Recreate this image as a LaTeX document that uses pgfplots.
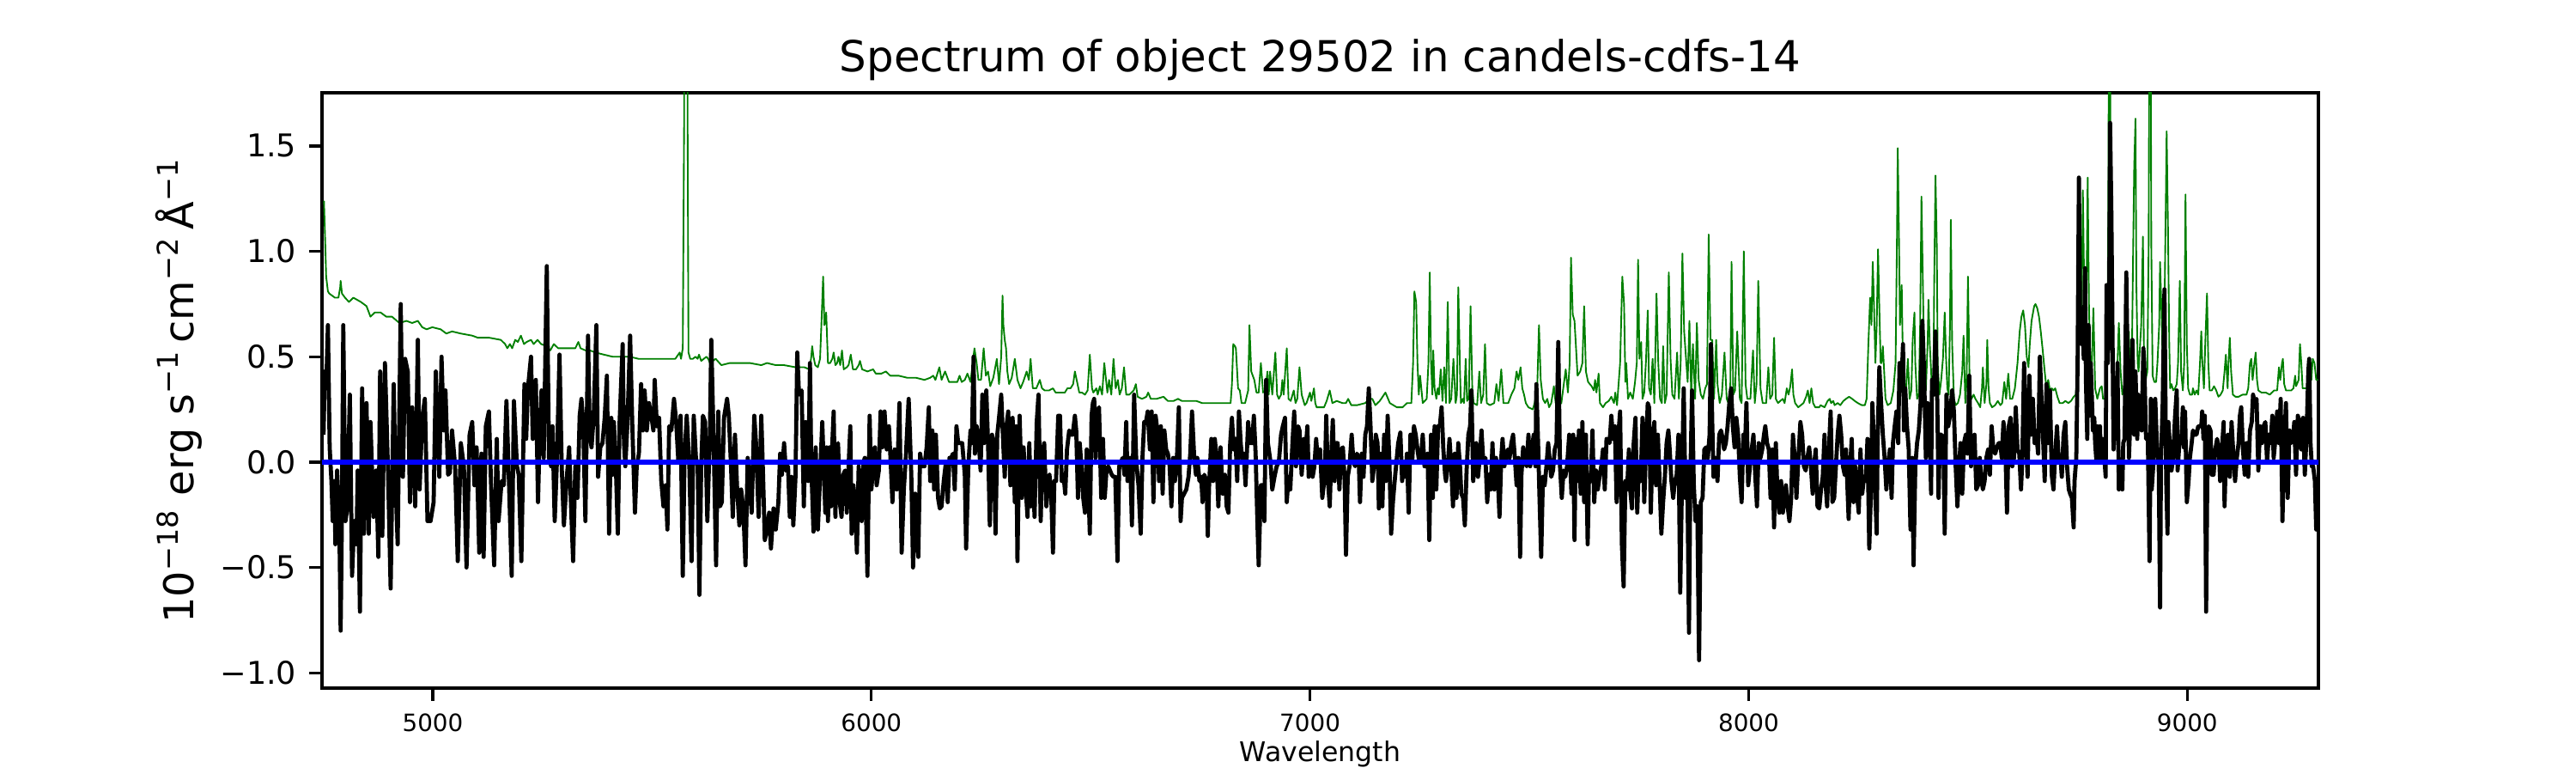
\documentclass[border=0pt]{standalone}
\usepackage{fontspec}
\setmainfont{DejaVu Sans}
\usepackage{pgfplots}
\pgfplotsset{compat=1.18}
\definecolor{mplgreen}{RGB}{0,128,0}
\begin{document}
\begin{tikzpicture}
\path[use as bounding box] (0,0) rectangle (10in,3in);
\begin{axis}[
  at={(1.25in,0.33in)}, anchor=south west,
  scale only axis, width=7.75in, height=2.31in,
  xmin=4747.5, xmax=9299, ymin=-1.0725, ymax=1.7525,
  axis line style={line width=0.8pt},
  tick align=outside, xtick pos=bottom, ytick pos=left,
  major tick length=3.5pt,
  every tick/.style={black, line width=0.8pt},
  xtick={5000,6000,7000,8000,9000},
  xticklabels={5000,6000,7000,8000,9000},
  ytick={-1,-0.5,0,0.5,1,1.5},
  yticklabels={−1.0,−0.5,0.0,0.5,1.0,1.5},
  xticklabel style={font=\fontsize{6.7}{8}\selectfont, inner xsep=0pt, inner ysep=3.5pt},
  yticklabel style={font=\fontsize{8.8}{10}\selectfont, inner xsep=3.5pt, inner ysep=0pt},
  xlabel={Wavelength},
  xlabel style={font=\fontsize{7.6}{9}\selectfont, at={(axis description cs:0.5,-0.124)}, anchor=base, inner sep=0pt},
  ylabel={10\textsuperscript{−18} erg s\textsuperscript{−1}\,cm\textsuperscript{−2}\,Å\textsuperscript{−1}},
  ylabel style={font=\fontsize{11.5}{13}\selectfont, at={(axis description cs:-0.0715,0.5)}, anchor=center, inner sep=0pt},
  title={Spectrum of object 29502 in candels-cdfs-14},
  title style={font=\fontsize{12}{14}\selectfont, at={(axis description cs:0.5,1.036)}, anchor=base, inner sep=0pt, yshift=-6pt},
  clip=true,
]
% model / sky (green)
\addplot[mplgreen, line width=0.45pt, line join=round] table {
x y
4752 1.24
4755 1.03
4757 0.88
4761 0.81
4764 0.80
4777 0.78
4785 0.78
4789 0.83
4790 0.86
4793 0.80
4800 0.78
4809 0.76
4819 0.78
4836 0.76
4849 0.74
4858 0.69
4868 0.71
4881 0.71
4894 0.69
4907 0.69
4924 0.66
4940 0.67
4953 0.66
4966 0.67
4976 0.64
4986 0.63
4999 0.64
5018 0.63
5031 0.61
5044 0.62
5064 0.61
5090 0.60
5103 0.59
5116 0.59
5129 0.59
5155 0.58
5165 0.56
5170 0.54
5176 0.56
5181 0.54
5188 0.58
5194 0.57
5201 0.60
5208 0.56
5214 0.57
5224 0.58
5230 0.56
5239 0.58
5247 0.56
5260 0.55
5268 0.53
5276 0.56
5286 0.54
5299 0.54
5319 0.54
5325 0.54
5332 0.57
5337 0.54
5348 0.53
5358 0.53
5371 0.52
5390 0.51
5410 0.50
5429 0.50
5449 0.50
5469 0.49
5501 0.49
5527 0.49
5553 0.49
5563 0.52
5566 0.49
5570 0.54
5573 1.59
5574 2.5
5580 2.5
5581 1.6
5583 0.52
5587 0.49
5593 0.49
5599 0.50
5604 0.49
5607 0.51
5612 0.48
5624 0.50
5628 0.49
5632 0.47
5645 0.49
5658 0.46
5677 0.47
5697 0.47
5723 0.47
5749 0.46
5762 0.47
5782 0.46
5801 0.46
5827 0.45
5847 0.45
5859 0.44
5863 0.50
5865 0.55
5868 0.50
5872 0.46
5878 0.45
5883 0.49
5886 0.65
5890 0.88
5893 0.65
5897 0.71
5901 0.47
5906 0.47
5911 0.49
5914 0.52
5918 0.46
5922 0.47
5925 0.50
5929 0.46
5933 0.53
5937 0.44
5944 0.45
5948 0.46
5953 0.51
5958 0.44
5965 0.44
5971 0.46
5974 0.48
5979 0.44
5991 0.43
6004 0.44
6010 0.42
6023 0.42
6033 0.43
6043 0.41
6062 0.41
6082 0.40
6102 0.40
6121 0.39
6134 0.40
6141 0.41
6146 0.39
6155 0.45
6160 0.39
6168 0.43
6177 0.38
6186 0.38
6196 0.38
6201 0.41
6206 0.38
6213 0.39
6219 0.42
6226 0.38
6231 0.47
6235 0.54
6240 0.47
6244 0.39
6250 0.39
6256 0.54
6261 0.41
6266 0.43
6271 0.36
6278 0.40
6286 0.49
6291 0.37
6296 0.50
6299 0.79
6301 0.65
6304 0.58
6307 0.54
6310 0.43
6314 0.37
6320 0.40
6327 0.49
6333 0.39
6340 0.35
6346 0.38
6354 0.43
6359 0.39
6363 0.49
6368 0.35
6376 0.35
6384 0.39
6389 0.35
6395 0.34
6405 0.34
6414 0.35
6420 0.33
6428 0.33
6441 0.33
6447 0.35
6454 0.35
6460 0.37
6464 0.43
6468 0.39
6474 0.33
6480 0.33
6487 0.32
6493 0.34
6498 0.51
6503 0.35
6506 0.33
6513 0.35
6516 0.32
6521 0.36
6526 0.32
6531 0.47
6538 0.33
6542 0.39
6547 0.32
6552 0.49
6557 0.35
6562 0.39
6566 0.32
6571 0.35
6576 0.45
6581 0.32
6588 0.32
6598 0.34
6603 0.37
6607 0.31
6617 0.30
6627 0.31
6631 0.33
6637 0.30
6650 0.30
6666 0.31
6676 0.29
6689 0.29
6699 0.30
6708 0.29
6722 0.29
6741 0.29
6754 0.28
6767 0.28
6793 0.28
6819 0.28
6822 0.37
6825 0.56
6829 0.55
6831 0.54
6836 0.35
6840 0.34
6844 0.28
6852 0.28
6859 0.34
6862 0.65
6866 0.43
6873 0.39
6878 0.33
6883 0.33
6888 0.47
6893 0.33
6898 0.34
6903 0.43
6906 0.32
6909 0.43
6914 0.32
6921 0.52
6925 0.32
6929 0.30
6934 0.32
6937 0.39
6940 0.32
6947 0.54
6951 0.30
6956 0.29
6963 0.34
6967 0.28
6971 0.30
6976 0.45
6981 0.32
6988 0.27
6992 0.28
7000 0.33
7003 0.29
7009 0.35
7012 0.28
7015 0.26
7025 0.26
7032 0.26
7038 0.29
7045 0.34
7051 0.28
7061 0.29
7074 0.28
7082 0.28
7087 0.30
7094 0.27
7107 0.27
7126 0.28
7136 0.30
7142 0.30
7149 0.27
7159 0.29
7172 0.33
7182 0.28
7198 0.26
7211 0.26
7221 0.28
7231 0.28
7235 0.47
7238 0.81
7242 0.76
7245 0.47
7248 0.32
7251 0.41
7257 0.28
7266 0.30
7270 0.47
7273 0.90
7276 0.47
7279 0.32
7281 0.53
7284 0.35
7288 0.30
7291 0.35
7294 0.32
7298 0.44
7302 0.29
7306 0.45
7310 0.28
7314 0.76
7318 0.28
7322 0.30
7327 0.49
7332 0.28
7335 0.32
7338 0.83
7342 0.43
7344 0.28
7348 0.30
7351 0.28
7355 0.49
7358 0.29
7362 0.30
7366 0.74
7370 0.35
7373 0.28
7381 0.27
7386 0.43
7390 0.28
7395 0.32
7399 0.56
7403 0.28
7410 0.27
7420 0.28
7425 0.37
7430 0.29
7436 0.44
7441 0.28
7452 0.28
7459 0.32
7466 0.35
7471 0.43
7475 0.39
7480 0.45
7484 0.35
7488 0.32
7492 0.28
7498 0.26
7508 0.25
7512 0.28
7518 0.35
7522 0.65
7526 0.39
7531 0.30
7536 0.28
7541 0.30
7545 0.26
7550 0.28
7556 0.36
7560 0.28
7567 0.27
7573 0.28
7583 0.44
7588 0.33
7592 0.47
7595 0.97
7599 0.70
7603 0.67
7606 0.56
7610 0.41
7616 0.43
7621 0.47
7625 0.74
7629 0.43
7634 0.38
7642 0.36
7647 0.34
7650 0.39
7653 0.33
7658 0.42
7661 0.28
7668 0.26
7674 0.28
7681 0.29
7687 0.31
7693 0.28
7696 0.33
7700 0.27
7707 0.47
7712 0.88
7716 0.75
7719 0.38
7721 0.47
7725 0.30
7730 0.33
7736 0.30
7741 0.38
7745 0.47
7748 0.96
7751 0.49
7755 0.57
7758 0.30
7762 0.33
7766 0.48
7770 0.72
7773 0.35
7777 0.32
7781 0.49
7785 0.28
7790 0.80
7794 0.47
7798 0.30
7802 0.28
7805 0.55
7809 0.28
7813 0.32
7818 0.90
7822 0.49
7826 0.32
7831 0.30
7837 0.52
7841 0.30
7845 0.47
7849 0.99
7853 0.62
7857 0.50
7861 0.38
7865 0.67
7869 0.32
7873 0.56
7878 0.30
7882 0.66
7886 0.39
7891 0.32
7896 0.30
7901 0.35
7905 0.37
7909 1.08
7913 0.58
7917 0.58
7921 0.30
7926 0.58
7929 0.37
7934 0.28
7939 0.32
7945 0.52
7950 0.30
7954 0.28
7958 0.30
7961 0.95
7965 0.32
7969 0.34
7974 0.62
7980 0.30
7984 0.28
7989 1.00
7993 0.37
7997 0.30
8004 0.30
8010 0.53
8014 0.28
8018 0.37
8022 0.86
8027 0.35
8032 0.28
8040 0.28
8045 0.45
8049 0.30
8054 0.32
8058 0.59
8062 0.30
8067 0.28
8072 0.29
8078 0.30
8082 0.28
8087 0.35
8091 0.32
8095 0.36
8099 0.44
8102 0.32
8106 0.28
8113 0.26
8125 0.28
8131 0.31
8135 0.34
8139 0.28
8143 0.35
8147 0.28
8152 0.26
8161 0.26
8164 0.27
8173 0.26
8180 0.29
8185 0.30
8188 0.28
8193 0.29
8196 0.27
8203 0.28
8209 0.27
8216 0.29
8222 0.30
8229 0.31
8236 0.30
8242 0.29
8249 0.28
8258 0.27
8265 0.27
8269 0.30
8273 0.56
8277 0.78
8280 0.65
8283 0.95
8286 0.73
8289 0.47
8292 0.65
8295 1.01
8298 0.73
8301 0.47
8303 0.47
8306 0.55
8309 0.43
8312 0.30
8317 0.27
8324 0.28
8330 0.34
8335 0.47
8338 1.03
8340 1.49
8343 1.03
8345 0.65
8349 0.84
8352 0.43
8356 0.32
8359 0.35
8363 0.49
8367 0.30
8371 0.34
8374 0.58
8378 0.71
8380 0.47
8384 0.30
8388 0.32
8391 0.65
8394 1.26
8397 0.88
8400 0.50
8404 0.34
8408 0.56
8410 0.77
8413 0.56
8417 0.39
8421 0.32
8423 0.84
8426 1.36
8429 1.03
8431 0.47
8435 0.32
8439 0.39
8443 0.49
8447 0.71
8450 0.50
8453 0.35
8456 0.32
8459 0.65
8461 1.15
8464 0.56
8468 0.30
8472 0.27
8477 0.28
8482 0.32
8487 0.43
8490 0.60
8494 0.28
8497 0.39
8500 0.88
8504 0.35
8508 0.30
8513 0.32
8517 0.30
8523 0.28
8528 0.26
8532 0.35
8534 0.45
8538 0.28
8542 0.37
8544 0.58
8547 0.35
8550 0.28
8555 0.26
8562 0.27
8568 0.29
8574 0.27
8578 0.28
8583 0.38
8587 0.30
8592 0.42
8596 0.30
8601 0.30
8607 0.35
8613 0.47
8618 0.62
8622 0.69
8626 0.72
8630 0.65
8634 0.50
8638 0.45
8641 0.56
8645 0.67
8651 0.74
8654 0.75
8658 0.73
8662 0.69
8666 0.62
8670 0.54
8675 0.43
8679 0.35
8683 0.39
8687 0.34
8691 0.35
8695 0.34
8699 0.35
8704 0.31
8709 0.28
8716 0.28
8722 0.29
8729 0.28
8735 0.29
8741 0.31
8746 0.32
8750 0.47
8754 1.03
8759 0.65
8762 1.29
8765 0.84
8769 0.56
8773 1.35
8776 0.73
8779 0.47
8782 0.43
8786 0.73
8790 0.35
8795 0.30
8801 0.35
8805 0.36
8808 0.30
8813 0.30
8818 0.56
8820 1.21
8822 2.5
8824 2.5
8825 0.73
8829 0.47
8833 0.37
8837 0.35
8841 0.47
8844 0.66
8848 0.43
8852 0.32
8856 0.35
8859 0.47
8863 0.49
8867 0.62
8870 0.37
8874 0.54
8876 0.90
8879 1.40
8882 1.63
8884 0.84
8887 0.47
8889 0.43
8895 0.65
8899 1.07
8901 0.56
8905 0.39
8909 0.43
8912 1.03
8914 2.5
8916 2.5
8918 1.03
8921 0.41
8925 0.38
8929 0.38
8932 0.47
8936 0.65
8938 0.95
8941 0.73
8944 0.47
8947 0.56
8951 1.21
8953 1.57
8956 1.12
8959 0.56
8961 0.35
8964 0.37
8968 0.34
8972 0.35
8976 0.37
8979 0.47
8983 0.86
8986 0.43
8990 0.34
8993 0.47
8996 1.27
8999 0.56
9002 0.35
9006 0.32
9011 0.32
9013 0.35
9017 0.32
9021 0.34
9025 0.32
9029 0.47
9032 0.62
9034 0.49
9038 0.35
9041 0.56
9045 0.80
9048 0.47
9051 0.34
9056 0.34
9061 0.36
9066 0.34
9071 0.31
9076 0.32
9081 0.34
9085 0.43
9088 0.51
9092 0.35
9094 0.47
9097 0.59
9100 0.43
9104 0.32
9110 0.31
9117 0.31
9126 0.32
9135 0.32
9139 0.35
9143 0.47
9146 0.49
9149 0.39
9153 0.47
9156 0.52
9159 0.39
9162 0.34
9169 0.33
9179 0.33
9188 0.32
9198 0.34
9205 0.34
9209 0.45
9212 0.39
9216 0.47
9218 0.49
9221 0.37
9225 0.34
9231 0.34
9237 0.34
9242 0.35
9246 0.41
9248 0.36
9254 0.39
9257 0.56
9260 0.47
9263 0.35
9268 0.35
9273 0.35
9277 0.47
9280 0.49
9283 0.39
9286 0.49
9290 0.47
9294 0.39
9298 0.39
};
% observed spectrum (black)
\addplot[black, line width=1.15pt, line join=round] table {
x y
4751 0.13
4754 0.43
4757 0.35
4761 0.65
4765 0.07
4769 -0.09
4772 -0.28
4776 -0.09
4778 -0.39
4782 -0.04
4787 -0.28
4790 -0.80
4793 -0.24
4796 0.65
4801 -0.28
4805 -0.22
4811 0.32
4816 -0.54
4821 -0.28
4826 -0.39
4829 -0.04
4834 -0.71
4839 0.35
4843 -0.34
4849 0.28
4854 -0.34
4858 0.19
4865 -0.26
4871 -0.04
4876 -0.45
4880 0.43
4885 -0.35
4891 0.47
4898 -0.04
4904 -0.60
4911 0.37
4915 -0.09
4920 -0.39
4927 0.75
4932 -0.07
4937 0.49
4943 0.43
4948 -0.19
4953 0.26
4960 -0.21
4966 0.58
4970 -0.13
4976 0.21
4982 0.30
4988 -0.28
4995 -0.28
5002 -0.19
5007 0.43
5015 -0.07
5020 0.50
5025 0.15
5029 0.34
5035 -0.06
5039 -0.05
5044 0.15
5051 -0.02
5057 -0.47
5064 0.09
5071 -0.02
5077 -0.50
5084 0.13
5090 0.19
5095 -0.11
5100 0.07
5106 -0.43
5111 0.04
5116 -0.45
5121 0.17
5128 0.24
5133 -0.11
5140 -0.49
5146 0.11
5150 -0.28
5157 -0.09
5162 -0.11
5168 0.29
5174 -0.11
5180 -0.54
5185 0.29
5192 -0.02
5196 -0.06
5202 -0.47
5209 0.37
5213 0.11
5217 0.35
5224 0.50
5228 0.11
5235 0.39
5240 -0.19
5243 0.07
5248 0.34
5253 0.02
5260 0.93
5265 0.02
5270 -0.02
5273 0.17
5278 -0.28
5283 0.00
5289 0.51
5294 -0.02
5299 -0.30
5305 -0.09
5311 0.07
5315 -0.19
5320 -0.47
5325 -0.02
5330 -0.17
5335 0.22
5339 0.30
5343 0.19
5348 -0.28
5354 0.60
5358 0.13
5362 0.07
5367 0.22
5373 0.65
5377 -0.07
5382 0.07
5387 0.09
5392 0.21
5397 0.41
5402 -0.34
5407 0.21
5410 -0.06
5413 0.19
5418 -0.06
5422 -0.34
5426 0.19
5433 0.56
5436 0.09
5439 -0.02
5444 0.19
5450 0.60
5455 0.17
5461 -0.24
5465 -0.02
5470 0.04
5475 0.37
5479 0.15
5483 0.34
5488 0.15
5493 0.28
5499 0.21
5503 0.15
5506 0.39
5511 0.17
5516 0.21
5521 -0.09
5526 -0.21
5531 -0.11
5535 -0.32
5539 0.17
5544 0.15
5550 0.30
5555 0.19
5560 0.00
5565 0.22
5570 -0.54
5574 0.02
5579 0.22
5585 -0.02
5590 -0.47
5595 0.22
5600 0.02
5604 -0.02
5608 -0.63
5612 -0.02
5616 0.22
5621 0.19
5626 -0.28
5632 0.15
5635 0.58
5640 0.13
5646 -0.49
5651 0.24
5655 -0.21
5659 -0.19
5664 0.21
5671 0.30
5675 0.22
5680 -0.02
5684 -0.26
5689 0.13
5694 -0.13
5699 -0.30
5703 -0.13
5708 -0.22
5713 -0.49
5718 0.02
5723 -0.09
5727 -0.24
5733 0.22
5737 0.09
5743 -0.26
5749 0.22
5753 -0.06
5757 -0.37
5762 -0.32
5767 -0.24
5771 -0.41
5777 -0.22
5782 -0.32
5788 -0.19
5792 0.04
5796 -0.06
5801 0.09
5805 -0.04
5810 -0.02
5814 -0.26
5818 -0.07
5822 -0.30
5827 -0.07
5831 0.52
5835 0.32
5841 0.34
5846 -0.21
5850 0.19
5856 -0.09
5860 0.47
5863 -0.02
5868 -0.33
5873 0.07
5878 -0.32
5883 -0.07
5888 0.19
5895 -0.24
5898 0.07
5901 -0.28
5905 0.07
5908 -0.21
5911 0.09
5914 0.24
5918 -0.26
5921 0.07
5924 0.09
5928 -0.19
5932 -0.26
5936 -0.06
5940 -0.04
5944 -0.24
5948 -0.02
5952 0.17
5955 -0.34
5959 -0.11
5963 -0.19
5967 -0.43
5971 -0.02
5974 -0.13
5978 -0.28
5982 0.00
5985 0.02
5991 -0.54
5996 0.22
6000 -0.13
6004 -0.02
6008 0.07
6012 -0.11
6017 -0.04
6021 0.24
6025 0.07
6030 0.24
6035 0.06
6040 0.17
6044 0.00
6048 -0.19
6053 0.06
6058 -0.13
6064 0.28
6069 -0.43
6074 -0.13
6079 0.04
6085 0.30
6091 -0.06
6095 -0.50
6100 -0.15
6103 -0.35
6107 -0.45
6111 0.04
6116 -0.02
6121 -0.02
6126 0.07
6131 0.26
6134 -0.09
6139 0.15
6143 -0.13
6147 0.13
6152 -0.17
6156 -0.22
6160 -0.21
6165 -0.09
6170 0.00
6174 -0.19
6178 0.02
6182 0.02
6186 0.04
6190 -0.13
6194 0.17
6198 0.09
6203 0.09
6207 0.09
6213 -0.06
6216 -0.41
6221 -0.02
6226 0.15
6229 0.09
6233 0.50
6236 0.04
6240 0.17
6245 0.09
6249 -0.04
6253 0.32
6257 0.09
6262 0.34
6266 0.09
6270 -0.30
6275 0.13
6279 0.09
6283 -0.34
6287 0.13
6291 0.21
6296 0.32
6301 0.07
6304 -0.07
6308 0.17
6312 0.24
6317 -0.11
6322 0.21
6327 -0.19
6330 0.17
6333 -0.47
6338 0.22
6343 -0.17
6347 0.07
6352 -0.13
6356 -0.26
6360 0.09
6364 -0.21
6368 -0.02
6372 -0.26
6377 0.19
6381 0.32
6386 -0.28
6390 0.04
6394 0.09
6399 -0.21
6402 -0.13
6406 -0.06
6410 -0.15
6414 -0.43
6417 -0.09
6421 -0.09
6426 0.22
6430 0.22
6434 -0.09
6438 -0.06
6442 -0.15
6446 0.06
6451 0.15
6455 0.13
6459 0.13
6464 0.22
6467 0.15
6471 -0.17
6475 0.09
6479 -0.02
6483 -0.17
6487 -0.24
6491 0.06
6494 -0.06
6498 -0.34
6502 0.22
6505 0.28
6508 0.30
6511 0.02
6515 0.24
6519 0.26
6524 -0.17
6528 0.11
6532 -0.17
6536 -0.04
6540 -0.02
6544 -0.04
6548 -0.06
6552 -0.07
6556 -0.07
6561 -0.47
6565 -0.02
6569 0.00
6573 0.02
6577 -0.06
6581 0.19
6584 -0.09
6590 0.02
6594 -0.30
6599 0.32
6604 0.00
6609 -0.11
6614 -0.34
6618 0.02
6622 0.19
6626 0.19
6630 0.24
6635 0.06
6639 0.24
6643 -0.19
6648 0.22
6652 0.15
6656 -0.09
6660 0.17
6664 -0.15
6668 0.15
6672 0.06
6676 0.04
6680 -0.02
6684 -0.21
6688 0.02
6692 -0.09
6697 0.04
6701 0.26
6705 -0.28
6708 -0.17
6713 -0.15
6718 -0.13
6723 -0.07
6727 0.04
6731 0.24
6736 0.02
6740 -0.06
6743 0.02
6748 -0.09
6752 -0.07
6755 -0.19
6759 -0.06
6764 -0.09
6767 -0.35
6770 -0.11
6775 0.11
6779 -0.09
6783 0.11
6787 0.02
6791 -0.21
6796 0.07
6801 -0.15
6806 -0.06
6810 -0.21
6814 -0.24
6818 0.09
6822 0.21
6826 0.06
6830 0.11
6834 -0.09
6838 0.24
6842 0.09
6846 0.00
6849 0.04
6853 -0.11
6859 0.19
6863 0.09
6868 0.09
6872 0.22
6876 0.04
6880 -0.28
6883 -0.49
6888 -0.11
6892 -0.11
6896 -0.28
6900 0.39
6904 0.09
6910 0.00
6914 -0.13
6919 -0.07
6924 -0.02
6929 0.00
6934 0.13
6938 0.17
6943 0.21
6947 -0.19
6951 -0.07
6955 -0.13
6960 0.09
6964 0.24
6968 -0.02
6973 0.17
6976 0.15
6981 -0.06
6986 0.11
6989 0.02
6994 0.17
6997 -0.07
7002 0.00
7006 -0.07
7010 -0.02
7014 0.11
7018 0.00
7023 0.06
7028 -0.17
7034 -0.06
7037 0.22
7041 -0.09
7045 -0.21
7049 0.06
7052 0.20
7056 -0.09
7060 0.09
7063 0.09
7067 -0.13
7071 0.06
7075 0.07
7079 -0.09
7082 -0.44
7086 -0.07
7090 -0.02
7095 0.13
7099 0.00
7103 -0.02
7107 0.04
7111 0.02
7114 -0.19
7118 0.04
7122 -0.07
7126 0.13
7130 0.17
7134 0.35
7138 0.17
7142 -0.09
7146 -0.02
7150 0.13
7154 0.09
7157 -0.22
7161 0.04
7165 -0.21
7169 0.13
7173 -0.09
7177 0.22
7181 0.00
7185 -0.34
7189 -0.19
7193 -0.09
7197 0.00
7201 0.09
7206 0.14
7210 -0.09
7214 -0.02
7218 -0.07
7221 0.04
7225 -0.24
7229 0.13
7233 0.00
7237 0.17
7241 0.13
7245 0.06
7249 0.00
7253 0.02
7257 0.13
7261 -0.02
7265 -0.02
7268 0.04
7272 -0.37
7276 0.13
7280 -0.17
7284 0.17
7288 -0.13
7292 0.17
7296 0.17
7300 0.26
7304 0.06
7308 -0.06
7310 -0.09
7314 -0.02
7318 0.11
7322 -0.02
7326 -0.21
7330 0.04
7334 -0.17
7338 0.09
7342 -0.02
7345 -0.15
7349 -0.17
7353 -0.30
7357 -0.04
7361 0.13
7365 0.17
7368 0.34
7372 -0.09
7375 -0.02
7379 0.09
7383 -0.07
7387 0.02
7391 0.15
7395 0.00
7400 0.02
7404 -0.19
7408 -0.06
7412 -0.13
7416 0.09
7420 -0.13
7424 0.02
7428 -0.06
7432 -0.26
7436 0.02
7439 0.11
7443 -0.02
7447 0.02
7451 0.06
7455 0.02
7459 0.09
7463 0.13
7467 0.02
7471 -0.11
7475 0.02
7479 -0.45
7482 -0.06
7486 0.07
7490 0.00
7494 -0.02
7498 0.13
7502 -0.02
7506 0.06
7510 0.13
7514 -0.02
7516 0.37
7520 0.09
7523 -0.15
7527 -0.45
7531 -0.07
7535 -0.11
7539 -0.02
7543 0.09
7546 0.02
7550 -0.07
7554 -0.04
7558 0.06
7562 0.09
7566 0.57
7570 -0.02
7574 -0.17
7578 -0.04
7582 -0.07
7586 -0.02
7591 0.13
7596 -0.15
7600 0.13
7603 -0.37
7606 0.11
7610 -0.09
7613 0.15
7617 -0.15
7621 0.19
7625 -0.19
7629 0.13
7633 -0.39
7636 -0.07
7640 -0.09
7644 0.15
7648 -0.19
7652 -0.04
7656 -0.13
7660 -0.07
7664 -0.02
7668 0.06
7672 -0.13
7676 0.11
7680 0.11
7683 0.09
7687 0.22
7691 0.11
7695 0.17
7699 -0.19
7703 0.13
7707 0.24
7711 -0.39
7715 -0.59
7719 -0.09
7723 -0.13
7727 0.06
7730 -0.13
7734 -0.22
7738 0.09
7742 0.21
7746 -0.24
7750 0.00
7754 -0.09
7758 0.21
7762 -0.19
7766 0.06
7770 0.28
7773 0.26
7777 -0.24
7781 0.09
7785 0.19
7789 -0.11
7793 0.13
7797 -0.09
7801 -0.34
7805 -0.19
7809 -0.07
7813 0.09
7817 0.15
7820 0.06
7824 -0.09
7828 -0.17
7832 -0.09
7836 -0.06
7840 0.13
7844 -0.62
7848 -0.09
7852 0.35
7856 -0.17
7860 -0.02
7864 -0.81
7867 -0.09
7871 0.34
7875 -0.11
7879 -0.28
7883 -0.21
7887 -0.94
7891 -0.19
7895 -0.17
7899 0.06
7903 0.07
7907 0.02
7911 0.13
7914 0.56
7917 0.19
7920 -0.07
7924 0.02
7929 -0.09
7933 0.13
7937 0.15
7941 0.11
7944 0.06
7948 0.09
7952 0.17
7956 0.28
7960 0.35
7964 0.17
7968 0.07
7972 0.21
7976 0.13
7980 -0.07
7984 -0.19
7988 0.13
7991 0.02
7995 0.28
7999 -0.11
8003 -0.02
8007 0.06
8011 0.13
8015 -0.06
8019 -0.21
8023 0.09
8027 0.02
8031 0.06
8035 0.13
8038 0.17
8042 0.09
8046 0.06
8050 -0.17
8054 0.06
8058 -0.31
8062 0.09
8066 -0.17
8070 -0.24
8074 -0.09
8078 -0.24
8082 -0.17
8085 -0.11
8089 -0.21
8093 -0.28
8097 -0.17
8101 0.13
8105 0.02
8109 -0.17
8113 0.00
8118 0.19
8122 0.13
8126 -0.02
8130 -0.04
8134 0.02
8138 0.07
8142 -0.02
8146 -0.15
8149 -0.02
8153 0.06
8157 -0.21
8161 -0.22
8165 -0.13
8169 -0.07
8173 0.13
8175 -0.09
8179 -0.21
8183 0.06
8187 0.24
8191 -0.19
8195 -0.17
8199 -0.02
8203 0.13
8207 0.22
8211 0.13
8215 -0.02
8219 -0.06
8222 0.06
8228 -0.27
8232 0.00
8235 0.11
8239 -0.19
8243 -0.02
8247 -0.15
8251 -0.24
8255 0.06
8259 -0.15
8263 -0.07
8267 -0.09
8271 0.11
8275 -0.41
8279 -0.13
8282 0.28
8286 0.09
8289 -0.17
8292 -0.34
8294 0.09
8298 0.45
8302 0.28
8306 0.13
8310 0.02
8314 -0.13
8318 -0.02
8322 0.06
8326 -0.17
8329 0.09
8333 0.17
8337 0.24
8341 0.09
8344 0.47
8348 0.35
8352 0.56
8354 0.15
8357 0.35
8361 0.17
8365 0.06
8369 -0.32
8373 0.02
8376 -0.49
8380 -0.02
8384 0.09
8388 0.15
8392 0.28
8396 0.67
8400 0.43
8404 0.02
8408 0.28
8412 0.22
8416 -0.15
8418 0.39
8422 0.32
8426 0.62
8430 0.30
8433 -0.17
8436 0.13
8440 0.13
8444 0.09
8447 -0.34
8451 0.32
8455 0.17
8459 0.22
8464 0.34
8468 0.24
8472 -0.02
8476 -0.21
8480 -0.02
8483 0.09
8487 -0.15
8491 0.09
8495 0.13
8499 0.04
8503 0.41
8507 -0.02
8511 0.07
8515 0.13
8519 -0.13
8523 -0.11
8527 0.02
8530 -0.07
8534 -0.13
8538 -0.09
8542 0.02
8546 0.06
8550 -0.06
8554 0.17
8558 0.06
8562 0.04
8566 0.07
8570 0.09
8574 0.09
8577 0.02
8581 0.19
8585 0.09
8589 -0.24
8593 0.17
8597 0.21
8601 -0.02
8605 0.02
8609 0.26
8613 0.06
8617 0.04
8621 -0.13
8624 0.02
8628 0.47
8632 0.13
8636 -0.07
8640 0.41
8644 0.13
8648 0.30
8652 0.09
8656 0.13
8660 0.04
8664 0.50
8668 0.28
8671 0.13
8675 -0.09
8679 0.37
8683 0.09
8687 0.34
8691 -0.06
8695 -0.13
8699 0.04
8703 0.17
8707 0.00
8711 0.02
8714 -0.07
8718 0.13
8722 0.19
8726 -0.02
8730 -0.13
8733 -0.15
8737 -0.17
8741 -0.31
8743 -0.09
8747 0.02
8750 0.47
8753 1.35
8756 0.60
8759 0.56
8761 0.73
8764 0.49
8767 0.92
8769 0.39
8772 0.11
8775 0.65
8777 0.22
8780 0.47
8782 0.34
8785 0.15
8788 0.21
8790 0.09
8793 0.00
8795 0.17
8798 0.02
8801 0.17
8803 0.00
8807 0.11
8811 0.02
8814 -0.07
8816 0.84
8819 0.47
8822 0.73
8824 1.61
8827 1.18
8829 0.73
8832 0.06
8835 0.28
8839 0.11
8841 0.47
8844 -0.13
8848 -0.07
8852 -0.13
8854 0.09
8857 0.11
8861 0.90
8865 0.30
8867 0.02
8871 0.24
8875 0.58
8879 0.13
8882 0.43
8886 0.11
8888 0.32
8892 0.19
8896 0.15
8900 0.54
8902 0.47
8906 0.11
8910 0.13
8914 -0.47
8917 0.30
8919 -0.13
8923 0.00
8927 0.30
8931 0.07
8935 -0.02
8938 -0.69
8940 0.00
8944 0.28
8948 0.82
8952 -0.09
8955 -0.34
8957 0.19
8960 0.09
8964 -0.04
8968 0.02
8972 0.21
8976 0.34
8978 -0.04
8982 0.09
8986 0.09
8990 0.26
8992 0.07
8995 0.24
8999 -0.19
9003 -0.09
9006 0.02
9010 0.09
9013 0.15
9017 0.13
9021 0.13
9025 0.17
9029 0.17
9032 0.17
9034 0.24
9037 0.11
9040 0.22
9043 -0.71
9046 0.00
9049 0.17
9053 0.15
9056 -0.06
9060 -0.06
9064 0.06
9068 0.11
9072 0.06
9075 -0.09
9079 0.06
9083 0.19
9085 -0.21
9089 0.09
9093 0.13
9097 -0.07
9101 0.19
9105 0.04
9109 -0.09
9113 0.02
9117 0.09
9120 0.22
9123 0.26
9127 0.06
9131 -0.06
9135 0.09
9139 -0.07
9143 0.15
9147 0.19
9150 0.32
9154 0.28
9158 0.30
9162 -0.04
9166 0.17
9170 0.09
9174 0.17
9178 0.19
9182 0.00
9186 0.13
9190 0.09
9194 0.22
9197 0.02
9201 0.11
9205 0.24
9209 0.09
9213 0.30
9217 -0.28
9221 0.09
9225 0.28
9229 -0.17
9233 0.15
9237 0.09
9241 0.11
9244 0.19
9248 -0.06
9252 0.22
9256 0.19
9260 0.06
9264 0.21
9268 -0.06
9272 0.13
9276 0.43
9278 0.49
9281 0.09
9284 -0.02
9287 -0.02
9291 -0.09
9294 -0.32
9297 -0.24
9299 -0.31
};
% zero line (blue)
\addplot[blue, line width=1.3pt] coordinates {(4700,0) (9350,0)};
\end{axis}
\end{tikzpicture}
\end{document}
